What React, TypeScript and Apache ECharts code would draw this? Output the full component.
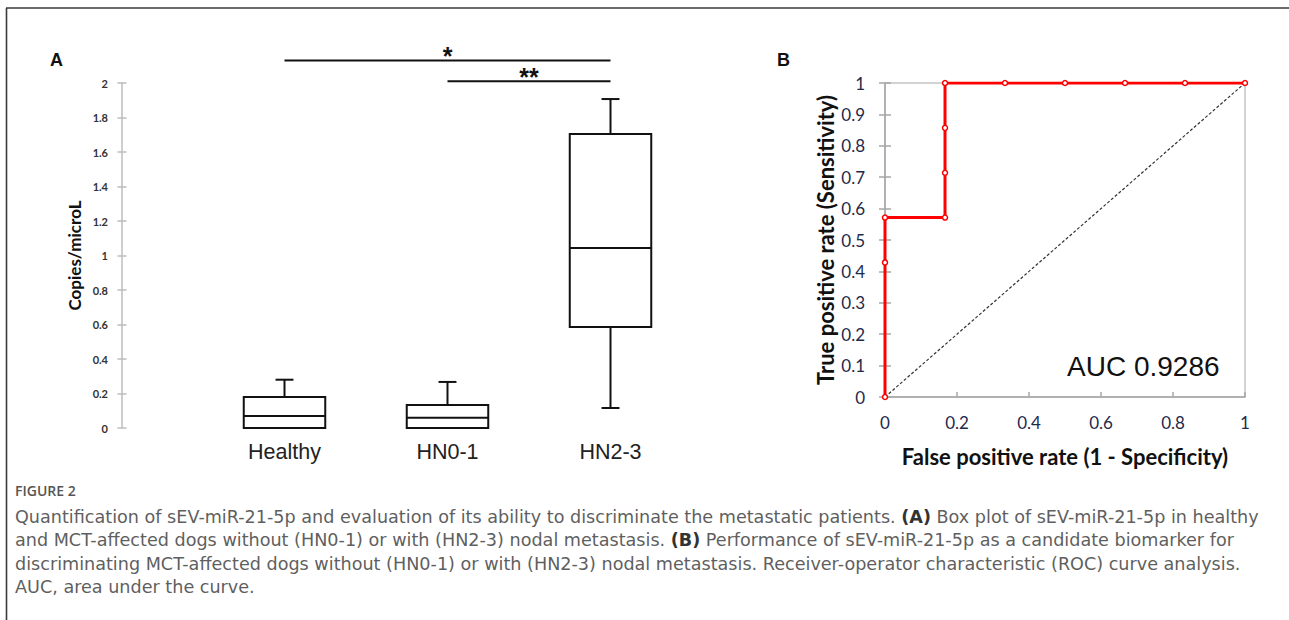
import React, { useEffect, useRef } from "react";
import * as echarts from "echarts";

// ---- Panel A: box plot data ----
const groups = ["Healthy", "HN0-1", "HN2-3"];
const boxMin = [0, 0, 0.116];
const boxQ1 = [0, 0, 0.585];
const boxMedian = [0.07, 0.06, 1.043];
const boxQ3 = [0.18, 0.133, 1.704];
const boxMax = [0.28, 0.267, 1.907];
const yMinA = 0;
const yMaxA = 2;
const yStepA = 0.2;

// significance brackets
const sigFrom = [0, 1];
const sigTo = [2, 2];
const sigLevel = [2.13, 2.01];
const sigLabel = ["*", "**"];

// ---- Panel B: ROC data ----
const rocFpr = [0, 0, 0, 0.1667, 0.1667, 0.1667, 0.1667, 0.3333, 0.5, 0.6667, 0.8333, 1];
const rocTpr = [0, 0.4286, 0.5714, 0.5714, 0.7143, 0.8571, 1, 1, 1, 1, 1, 1];
const chanceFpr = [0, 1];
const chanceTpr = [0, 1];
const aucValue = 0.9286;

// ---- Caption ----
const captionTitle = "FIGURE 2";
const captionLines = [
  "Quantification of sEV-miR-21-5p and evaluation of its ability to discriminate the metastatic patients. {b|(A)} Box plot of sEV-miR-21-5p in healthy",
  "and MCT-affected dogs without (HN0-1) or with (HN2-3) nodal metastasis. {b|(B)} Performance of sEV-miR-21-5p as a candidate biomarker for",
  "discriminating MCT-affected dogs without (HN0-1) or with (HN2-3) nodal metastasis. Receiver-operator characteristic (ROC) curve analysis.",
  "AUC, area under the curve.",
];

export default function App() {
  const ref = useRef<HTMLDivElement>(null);

  useEffect(() => {
    if (!ref.current) return;
    const chart = echarts.init(ref.current, undefined, { renderer: "svg" });

    const boxData = groups.map((g, i) => [i, boxMin[i], boxQ1[i], boxMedian[i], boxQ3[i], boxMax[i]]);
    const sigData = sigFrom.map((f, i) => [f, sigTo[i], sigLevel[i]]);

    const lineStyleBlack = { stroke: "#111", lineWidth: 2, fill: null };

    const captionFont = "'DejaVu Sans', 'Open Sans', sans-serif";
    const captionSize = 17.6;

    const option: any = {
      animation: false,
      backgroundColor: "#fff",
      grid: [
        { left: 203, top: 83, width: 489, height: 345, containLabel: false },
        {
          left: 885, top: 83, width: 360, height: 314,
          show: true, borderColor: "#a6a6a6", borderWidth: 1, backgroundColor: "transparent",
        },
      ],
      xAxis: [
        {
          type: "category",
          gridIndex: 0,
          data: groups,
          boundaryGap: true,
          axisLine: { show: false },
          axisTick: { show: false },
          axisLabel: {
            fontSize: 21.5, color: "#222", margin: 13,
            fontFamily: "'Liberation Sans', Arial, sans-serif",
          },
          splitLine: { show: false },
        },
        {
          type: "value",
          gridIndex: 1,
          position: "bottom",
          min: 0, max: 1, interval: 0.2,
          axisLine: { show: true, lineStyle: { color: "#a6a6a6", width: 1.5 } },
          axisTick: { show: true, inside: true, length: 5, lineStyle: { color: "#a6a6a6", width: 1.5 } },
          axisLabel: { fontSize: 17, color: "#1f2a4a", margin: 17, fontFamily: "Lato, sans-serif" },
          splitLine: { show: false },
          name: "False positive rate (1 - Specificity)",
          nameLocation: "middle",
          nameGap: 48,
          nameTextStyle: { fontSize: 22, fontWeight: "bold", color: "#111", fontFamily: "Lato, sans-serif" },
        },
      ],
      yAxis: [
        {
          type: "value",
          gridIndex: 0,
          position: "left",
          min: yMinA, max: yMaxA, interval: yStepA,
          offset: 81,
          axisLine: { show: true, lineStyle: { color: "#bdbdbd", width: 1.5 } },
          axisTick: { show: true, length: 4.5, lineStyle: { color: "#bdbdbd", width: 1.5 } },
          axisLabel: { fontSize: 11, color: "#333", margin: 14, fontFamily: "Lato, sans-serif", fontWeight: "bold" },
          splitLine: { show: false },
          name: "Copies/microL",
          nameLocation: "middle",
          nameGap: 39,
          nameTextStyle: { fontSize: 17, fontWeight: "bold", color: "#111", fontFamily: "Lato, sans-serif" },
        },
        {
          type: "value",
          gridIndex: 0,
          position: "left",
          min: yMinA, max: yMaxA, interval: yStepA,
          offset: 81,
          axisLine: { show: false },
          axisTick: { show: true, inside: true, length: 4.5, lineStyle: { color: "#bdbdbd", width: 1.5 } },
          axisLabel: { show: false },
          splitLine: { show: false },
        },
        {
          type: "value",
          gridIndex: 1,
          position: "left",
          min: 0, max: 1, interval: 0.1,
          axisLine: { show: true, lineStyle: { color: "#a6a6a6", width: 1.5 } },
          axisTick: { show: true, length: 6, lineStyle: { color: "#a6a6a6", width: 1.5 } },
          axisLabel: { fontSize: 17, color: "#1f2a4a", margin: 20, fontFamily: "Lato, sans-serif" },
          splitLine: { show: false },
          name: "True positive rate (Sensitivity)",
          nameLocation: "middle",
          nameGap: 49,
          nameTextStyle: { fontSize: 22, fontWeight: "bold", color: "#111", fontFamily: "Lato, sans-serif" },
        },
        {
          type: "value",
          gridIndex: 1,
          position: "left",
          min: 0, max: 1, interval: 0.1,
          axisLine: { show: false },
          axisTick: { show: true, inside: true, length: 6, lineStyle: { color: "#a6a6a6", width: 1.5 } },
          axisLabel: { show: false },
          splitLine: { show: false },
        },
      ],
      series: [
        {
          type: "custom",
          xAxisIndex: 0,
          yAxisIndex: 0,
          data: boxData,
          encode: { x: 0, y: [1, 2, 3, 4, 5] },
          renderItem: (params: any, api: any) => {
            const i = api.value(0);
            const lo = api.coord([i, api.value(1)]);
            const q1 = api.coord([i, api.value(2)]);
            const md = api.coord([i, api.value(3)]);
            const q3 = api.coord([i, api.value(4)]);
            const hi = api.coord([i, api.value(5)]);
            const band = api.size([1, 0])[0];
            const hw = band * 0.25;
            const cw = band * 0.055;
            const x = lo[0];
            const children: any[] = [
              { type: "line", shape: { x1: x, y1: q3[1], x2: x, y2: hi[1] }, style: lineStyleBlack },
              { type: "line", shape: { x1: x - cw, y1: hi[1], x2: x + cw, y2: hi[1] }, style: lineStyleBlack },
            ];
            if (Math.abs(q1[1] - lo[1]) > 0.5) {
              children.push(
                { type: "line", shape: { x1: x, y1: q1[1], x2: x, y2: lo[1] }, style: lineStyleBlack },
                { type: "line", shape: { x1: x - cw, y1: lo[1], x2: x + cw, y2: lo[1] }, style: lineStyleBlack }
              );
            }
            children.push(
              { type: "rect", shape: { x: x - hw, y: q3[1], width: 2 * hw, height: q1[1] - q3[1] }, style: { stroke: "#111", lineWidth: 2, fill: "#fff" } },
              { type: "line", shape: { x1: x - hw, y1: md[1], x2: x + hw, y2: md[1] }, style: lineStyleBlack }
            );
            return { type: "group", children };
          },
          z: 3,
        },
        {
          type: "custom",
          xAxisIndex: 0,
          yAxisIndex: 0,
          data: sigData,
          encode: { x: [0, 1], y: 2 },
          clip: false,
          renderItem: (params: any, api: any) => {
            const p1 = api.coord([api.value(0), api.value(2)]);
            const p2 = api.coord([api.value(1), api.value(2)]);
            return {
              type: "group",
              children: [
                { type: "line", shape: { x1: p1[0], y1: p1[1], x2: p2[0], y2: p2[1] }, style: { stroke: "#111", lineWidth: 2 } },
                {
                  type: "text",
                  x: (p1[0] + p2[0]) / 2,
                  y: p1[1] + 8,
                  style: {
                    text: sigLabel[params.dataIndex],
                    fontSize: 25,
                    fontWeight: "bold",
                    fontFamily: "'Liberation Sans', Arial, sans-serif",
                    fill: "#111",
                    align: "center",
                    verticalAlign: "bottom",
                  },
                },
              ],
            };
          },
          z: 3,
        },
        {
          type: "line",
          xAxisIndex: 1,
          yAxisIndex: 2,
          data: chanceFpr.map((v, i) => [v, chanceTpr[i]]),
          symbol: "none",
          lineStyle: { color: "#333", width: 1.2, type: [3, 2] },
          z: 2,
        },
        {
          type: "line",
          xAxisIndex: 1,
          yAxisIndex: 2,
          data: rocFpr.map((v, i) => [v, rocTpr[i]]),
          symbol: "circle",
          symbolSize: 5,
          showAllSymbol: true,
          lineStyle: { color: "#ff0000", width: 3 },
          itemStyle: { color: "#fff", borderColor: "#ff0000", borderWidth: 1.5 },
          z: 4,
        },
      ],
      graphic: [
        { type: "line", shape: { x1: 6, y1: 8, x2: 1289, y2: 8 }, style: { stroke: "#3a3a3a", lineWidth: 1.6 } },
        { type: "line", shape: { x1: 6.5, y1: 8, x2: 6.5, y2: 620 }, style: { stroke: "#3a3a3a", lineWidth: 1.6 } },
        {
          type: "text", left: 50, top: 51,
          style: { text: "A", fontSize: 18, fontWeight: "bold", fill: "#111", fontFamily: "'Liberation Sans', Arial, sans-serif" },
        },
        {
          type: "text", left: 777, top: 51,
          style: { text: "B", fontSize: 18, fontWeight: "bold", fill: "#111", fontFamily: "'Liberation Sans', Arial, sans-serif" },
        },
        {
          type: "text", left: 1067, top: 352,
          style: { text: "AUC " + aucValue.toFixed(4), fontSize: 28, fill: "#111", fontFamily: "'Liberation Sans', Arial, sans-serif" },
        },
        {
          type: "text", x: 15, y: 490,
          style: {
            text: captionTitle, fontSize: 14, fontWeight: 600, fill: "#555", fontFamily: "'Open Sans', sans-serif",
            verticalAlign: "middle", lineHeight: 16,
          },
        },
        ...captionLines.map((line, i) => ({
          type: "text",
          x: 15,
          y: 517 + i * 23.3,
          style: {
            text: line,
            fontSize: captionSize,
            lineHeight: 19,
            verticalAlign: "middle",
            fill: "#5f5f5f",
            fontFamily: captionFont,
            rich: {
              b: { fontSize: captionSize, lineHeight: 19, fontWeight: "bold", fill: "#333", fontFamily: captionFont },
            },
          },
        })),
      ],
    };

    chart.setOption(option);
    return () => chart.dispose();
  }, []);

  return (
    <div
      ref={ref}
      style={{ position: "fixed", left: 0, top: 0, width: 1289, height: 620, background: "#fff" }}
    />
  );
}
